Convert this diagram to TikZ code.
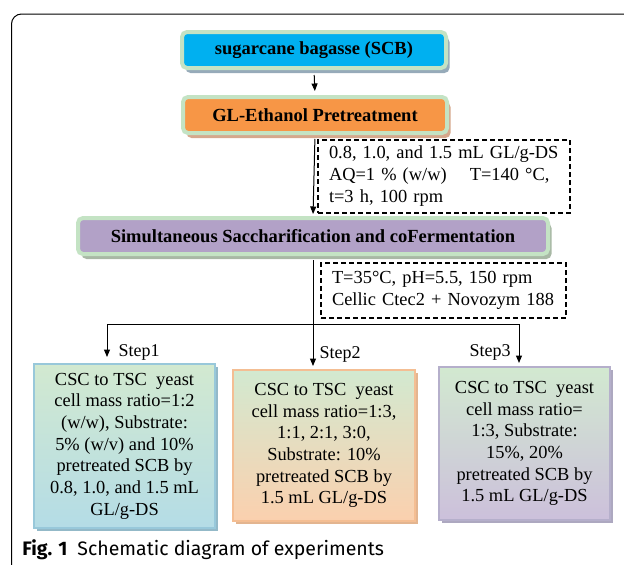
\documentclass[tikz,border=0pt]{standalone}
\usepackage{fontspec}
\setmainfont{Liberation Serif}
\newfontfamily\capfont{Fira Sans}
\usetikzlibrary{arrows.meta,shadows}

\definecolor{bordergreen}{RGB}{196,227,196}
\definecolor{cyanfill}{RGB}{0,176,240}
\definecolor{orangefill}{RGB}{247,150,70}
\definecolor{purplefill}{RGB}{178,161,199}
\definecolor{shadowblue}{RGB}{150,170,185}
\definecolor{shadowbrown}{RGB}{214,168,140}
\definecolor{shadowgreen}{RGB}{168,184,165}
\definecolor{stepgreen}{RGB}{210,233,208}
\definecolor{stepblue}{RGB}{180,220,230}
\definecolor{steppeach}{RGB}{251,208,174}
\definecolor{steplilac}{RGB}{204,192,219}
\definecolor{edgeblue}{RGB}{152,200,218}
\definecolor{edgepeach}{RGB}{244,190,147}
\definecolor{edgelilac}{RGB}{181,175,203}

\tikzset{every picture/.style={line width=0.75pt}}
\tikzset{
  headbox/.style={draw=bordergreen, line width=4pt, rounded corners=5pt,
    minimum height=36pt, inner sep=0pt,
    font=\bfseries\fontsize{18.5}{22}\selectfont},
  expbox/.style={line width=2.2pt, inner sep=0pt, align=center,
    font=\fontsize{18.4}{21.7}\selectfont},
  notebox/.style={draw, dash pattern=on 5pt off 3pt, line width=1.1pt,
    align=left, inner xsep=11pt, inner ysep=0pt,
    font=\fontsize{18.4}{22}\selectfont},
  steplabel/.style={inner sep=0pt, font=\fontsize{18}{20}\selectfont},
  arr/.style={-{Triangle[length=7.5pt,width=6pt]}, line width=1pt},
}

\begin{document}
\begin{tikzpicture}[x=1pt,y=1pt,yscale=-1,xscale=1]
\useasboundingbox (0,0) rectangle (624,565);
\clip (0,0) rectangle (624,565);

% Frame
\draw [line width=1pt, rounded corners=10pt] (11.5,575) |- (640,14);

% Head boxes
\node [headbox, fill=cyanfill, minimum width=264pt,
  drop shadow={shadow xshift=3.5pt, shadow yshift=-5pt, fill=shadowblue, opacity=1}]
  (scb) at (314,50) {sugarcane bagasse (SCB)};
\node [headbox, fill=orangefill, minimum width=264pt,
  drop shadow={shadow xshift=3.5pt, shadow yshift=-5pt, fill=shadowbrown, opacity=1}]
  (pretreat) at (315,115) {GL-Ethanol Pretreatment};
\node [headbox, fill=purplefill, minimum width=470pt,
  drop shadow={shadow xshift=3.5pt, shadow yshift=-5pt, fill=shadowgreen, opacity=1}]
  (ssf) at (313,236) {Simultaneous Saccharification and coFermentation};

% Condition boxes
\node [notebox, text width=230pt, minimum height=73pt] (cond1) at (444,176.5)
  {0.8, 1.0, and 1.5 mL GL/g-DS\\AQ=1 \% (w/w)\hspace{17pt} T=140 °C,\\t=3 h, 100 rpm};
\node [notebox, text width=223pt, minimum height=55pt] (cond2) at (443.5,290.5)
  {T=35°C, pH=5.5, 150 rpm\\Cellic Ctec2 + Novozym 188};

% Step boxes
\node [expbox, draw=edgeblue, top color=stepgreen, bottom color=stepblue,
  minimum width=181pt, minimum height=164pt,
  drop shadow={shadow xshift=3pt, shadow yshift=-3pt, fill=edgeblue!80!gray, opacity=1}]
  (exp1) at (124.5,446)
  {CSC to TSC\ \ yeast\\cell mass ratio=1:2\\(w/w), Substrate:\\5\% (w/v) and 10\%\\pretreated SCB by\\0.8, 1.0, and 1.5 mL\\GL/g-DS};
\node [expbox, draw=edgepeach, top color=stepgreen, bottom color=steppeach,
  minimum width=182pt, minimum height=151pt,
  drop shadow={shadow xshift=3pt, shadow yshift=-3pt, fill=edgepeach!85!gray, opacity=1}]
  (exp2) at (324,445.5)
  {CSC to TSC\ \ yeast\\cell mass ratio=1:3,\\1:1, 2:1, 3:0,\\Substrate: 10\%\\pretreated SCB by\\1.5 mL GL/g-DS};
\node [expbox, draw=edgelilac, top color=stepgreen, bottom color=steplilac,
  minimum width=171pt, minimum height=153pt,
  drop shadow={shadow xshift=3pt, shadow yshift=-3pt, fill=edgelilac!85!gray, opacity=1}]
  (exp3) at (524.5,443.5)
  {CSC to TSC\ \ yeast\\cell mass ratio=\\1:3, Substrate:\\15\%, 20\%\\pretreated SCB by\\1.5 mL GL/g-DS};

% Step labels
\node [steplabel] (lab1) at (139,352) {Step1};
\node [steplabel] (lab2) at (340,354) {Step2};
\node [steplabel] (lab3) at (490,352) {Step3};

% Branch points
\coordinate (split) at (313,324);
\coordinate (tip1) at (107,357);
\coordinate (tip2) at (313,366);
\coordinate (tip3) at (519,363);

% Connections
\draw [arr, shorten <=5pt, shorten >=4pt] (scb.south) -- (pretreat.north);
\draw [arr, shorten <=4pt, shorten >=2pt] (pretreat.south) -- (ssf.north);
\draw [line width=1pt, shorten <=4pt] (ssf.south) -- (split);
\draw [arr] (split) -| (tip1);
\draw [arr] (split) -- (tip2);
\draw [arr] (split) -| (tip3);

% Caption
\node [anchor=west, inner sep=0pt] (caption) at (22,550)
  {\capfont\fontsize{19.5}{22}\selectfont\textbf{Fig. 1}\hspace{10pt}Schematic diagram of experiments};

\end{tikzpicture}
\end{document}
